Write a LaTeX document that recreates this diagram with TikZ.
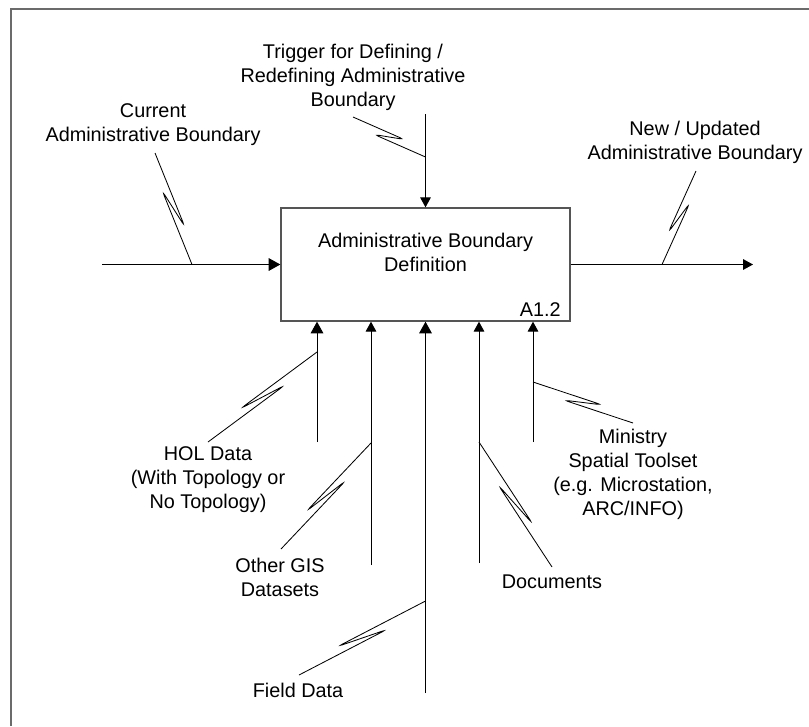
\documentclass[tikz,border=0pt]{standalone}
\usepackage{fontspec}
\setmainfont{Liberation Sans}
\usepackage{xcolor}
\usetikzlibrary{arrows.meta,calc}
\definecolor{boxgray}{HTML}{555555}
\definecolor{framegray}{HTML}{6B6B6B}

% squiggle leader: #1/#2 sides of the kink, #3 label end, #4 arrow end
\newcommand{\squig}[4]{%
  \draw[leader] (#3) -- ($(#3)!0.67!(#4)!3pt!#1:(#4)$)
    -- ($(#3)!0.33!(#4)!3pt!#2:(#4)$) -- (#4);}

\begin{document}
\begin{tikzpicture}[
  x=0.6pt,
  y=-0.6pt,
  every node/.style={
    font=\fontsize{11.9}{14.4}\selectfont,
    align=center,
    inner sep=0pt
  },
  activity/.style={
    draw=boxgray,
    line width=0.8pt,
    minimum width=173.4pt,
    minimum height=67.8pt
  },
  flow/.style={
    -{Triangle[length=7pt,width=7.6pt]},
    draw=black,
    line width=0.6pt
  },
  flowsmall/.style={
    -{Triangle[length=6pt,width=6.4pt]},
    draw=black,
    line width=0.6pt
  },
  leader/.style={
    draw=black,
    line width=0.5pt,
    rounded corners=2.6pt
  },
  frame/.style={
    draw=framegray,
    line width=0.9pt
  }
]
\useasboundingbox (0,0) rectangle (809,726);

% Sheet border
\draw[frame] (11,726) -- (11,9) -- (809,9);

% Activity box
\node[activity] (box) at (425.5,264.5) {};
\node (boxtitle) at (425.5,252) {Administrative Boundary\\Definition};
\node[anchor=base east] (boxnum) at (561,316) {A1.2};

% Free arrow ends
\coordinate (in0)  at (102,264.5);
\coordinate (out1) at (753,264.5);
\coordinate (ctl0) at (425.5,114);
\coordinate (m1)   at (317,442);
\coordinate (m2)   at (371,565);
\coordinate (m3)   at (425.5,693);
\coordinate (m4)   at (479,563);
\coordinate (m5)   at (533,442);

% Input, output, control
\draw[flow] (in0) -- (box.west);
\draw[flowsmall] (box.east) -- (out1);
\draw[flowsmall] (ctl0) -- (box.north);

% Mechanisms
\draw[flow]      (m1) -- (m1 |- box.south);
\draw[flowsmall] (m2) -- (m2 |- box.south);
\draw[flow]      (m3) -- (m3 |- box.south);
\draw[flowsmall] (m4) -- (m4 |- box.south);
\draw[flowsmall] (m5) -- (m5 |- box.south);

% Labels
\node (curlbl) at (153,125) {Current\\Administrative Boundary};
\node (trglbl) at (353,77) {Trigger for Defining /\\Redefining Administrative\\Boundary};
\node (newlbl) at (695,142.5) {New / Updated\\Administrative Boundary};
\node (hollbl) at (208,480) {HOL Data\\(With Topology or\\No Topology)};
\node (gislbl) at (280,577.5) {Other GIS\\Datasets};
\node (fldlbl) at (298,690.5) {Field Data};
\node (doclbl) at (552,581.5) {Documents};
\node (minlbl) at (633,474) {Ministry\\Spatial Toolset\\(e.g. Microstation,\\ARC/INFO)};

% Leader end points
\coordinate (curA) at (155,153);   \coordinate (curB) at (192,264.5);
\coordinate (trgA) at (353,117);   \coordinate (trgB) at (425.5,157);
\coordinate (newA) at (696,171);   \coordinate (newB) at (662,264.5);
\coordinate (holA) at (208,442);   \coordinate (holB) at (317,352);
\coordinate (gisA) at (281,549);   \coordinate (gisB) at (371,443);
\coordinate (fldA) at (299,675);   \coordinate (fldB) at (425.5,601);
\coordinate (docA) at (552,567);   \coordinate (docB) at (479,442);
\coordinate (minA) at (633,423);   \coordinate (minB) at (533,382);

% Squiggles
\squig{90}{-90}{curA}{curB}
\squig{90}{-90}{trgA}{trgB}
\squig{-90}{90}{newA}{newB}
\squig{-90}{90}{holA}{holB}
\squig{-90}{90}{gisA}{gisB}
\squig{-90}{90}{fldA}{fldB}
\squig{90}{-90}{docA}{docB}
\squig{90}{-90}{minA}{minB}

\end{tikzpicture}
\end{document}
